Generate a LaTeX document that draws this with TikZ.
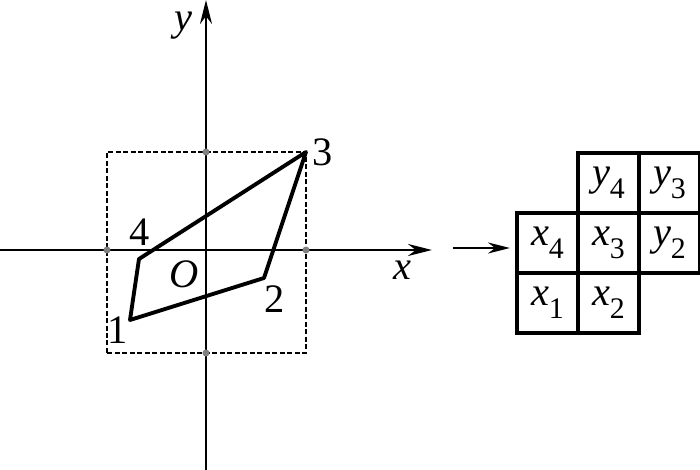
\documentclass[tikz,border=0pt]{standalone}
\usepackage{fontspec}
\setmainfont{Liberation Serif}
\usetikzlibrary{positioning,arrows.meta}

\newcommand{\cellvar}[2]{\textit{#1}\raisebox{-0.7ex}{\fontsize{8.5}{9}\selectfont #2}}

\tikzset{
  axis/.style={line width=0.7pt, -{Stealth[length=0.24cm,width=0.12cm]}},
  quad/.style={line width=1.1pt, line join=round},
  box/.style={line width=0.6pt, dash pattern=on 0.05cm off 0.025cm},
  tick/.style={fill=gray, draw=none, circle, minimum size=0.07cm, inner sep=0pt},
  lbl/.style={font=\fontsize{11.5}{13}\selectfont, inner sep=0pt},
  cell/.style={draw, line width=1.1pt, minimum width=0.61cm, minimum height=0.6cm,
    inner sep=0pt, outer sep=0pt, font=\fontsize{11.5}{13}\selectfont}
}

\begin{document}
\begin{tikzpicture}
    \useasboundingbox (-2.06,-2.2) rectangle (4.94,2.5);

    % Draw the dashed bounding square
    \draw[box] (-0.99,-1.03) rectangle (1,0.98);

    % Draw the axes
    \coordinate (xstart) at (-2.06,0);
    \coordinate (xend) at (2.26,0);
    \coordinate (ystart) at (0,-2.2);
    \coordinate (yend) at (0,2.5);
    \draw[axis] (xstart) -- (xend);
    \draw[axis] (ystart) -- (yend);
    \node[lbl] (xlabel) at (1.96,-0.2) {\textit{x}};
    \node[lbl] (ylabel) at (-0.23,2.24) {\textit{y}};
    \node[lbl] (origin) at (-0.22,-0.24) {\textit{O}};

    % Marks where the square meets the axes
    \node[tick] (tn) at (0,0.98) {};
    \node[tick] (ts) at (0,-1.03) {};
    \node[tick] (tw) at (-0.99,0) {};
    \node[tick] (te) at (1,0) {};

    % Draw the quadrilateral
    \coordinate (p1) at (-0.76,-0.70);
    \coordinate (p2) at (0.58,-0.28);
    \coordinate (p3) at (1,0.98);
    \coordinate (p4) at (-0.67,-0.09);
    \draw[quad] (p1) -- (p2) -- (p3) -- (p4) -- cycle;
    \node[lbl] (n1) at (-0.88,-0.80) {1};
    \node[lbl] (n2) at (0.69,-0.49) {2};
    \node[lbl] (n3) at (1.17,0.98) {3};
    \node[lbl] (n4) at (-0.66,0.18) {4};

    % Draw the table of coordinates
    \node[cell] (x4) at (3.415,0.073) {\cellvar{x}{4}};
    \node[cell, right=0pt of x4] (x3) {\cellvar{x}{3}};
    \node[cell, right=0pt of x3] (y2) {\cellvar{y}{2}};
    \node[cell, above=0pt of x3] (y4) {\cellvar{y}{4}};
    \node[cell, above=0pt of y2] (y3) {\cellvar{y}{3}};
    \node[cell, below=0pt of x4] (x1) {\cellvar{x}{1}};
    \node[cell, below=0pt of x3] (x2) {\cellvar{x}{2}};

    % Arrow into the table
    \coordinate (arrowstart) at (2.47,0.02);
    \draw[line width=0.7pt, -{Stealth[length=0.22cm,width=0.11cm]}, shorten >=0.07cm]
      (arrowstart) -- (arrowstart -| x4.west);
\end{tikzpicture}
\end{document}
